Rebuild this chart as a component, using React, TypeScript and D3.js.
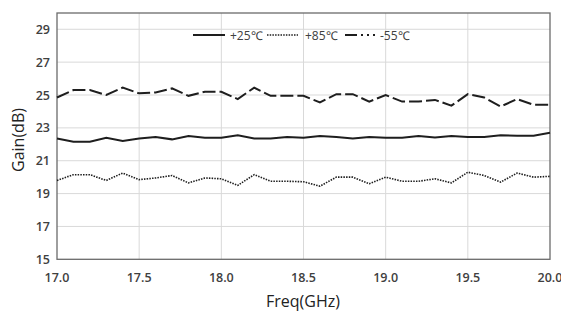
import React, { useEffect, useRef } from 'react';
import * as d3 from 'd3';

// frequency points, 17.0 .. 20.0 GHz step 0.1
const freqs = [
  17.0, 17.1, 17.2, 17.3, 17.4, 17.5, 17.6, 17.7, 17.8, 17.9,
  18.0, 18.1, 18.2, 18.3, 18.4, 18.5, 18.6, 18.7, 18.8, 18.9,
  19.0, 19.1, 19.2, 19.3, 19.4, 19.5, 19.6, 19.7, 19.8, 19.9, 20.0,
];

const gain25 = [
  22.35, 22.15, 22.15, 22.4, 22.2, 22.35, 22.45, 22.3, 22.5, 22.4,
  22.4, 22.55, 22.35, 22.35, 22.45, 22.4, 22.5, 22.45, 22.35, 22.45,
  22.4, 22.4, 22.5, 22.42, 22.5, 22.45, 22.45, 22.55, 22.52, 22.52, 22.7,
];

const gain85 = [
  19.8, 20.15, 20.15, 19.8, 20.25, 19.85, 19.95, 20.1, 19.65, 19.95,
  19.9, 19.5, 20.15, 19.75, 19.75, 19.72, 19.45, 20.0, 20.0, 19.6,
  20.0, 19.75, 19.75, 19.9, 19.65, 20.3, 20.1, 19.7, 20.25, 20.0, 20.05,
];

const gainM55 = [
  24.85, 25.3, 25.3, 25.0, 25.45, 25.1, 25.15, 25.4, 24.95, 25.2,
  25.2, 24.75, 25.45, 24.95, 24.95, 24.95, 24.55, 25.05, 25.05, 24.6,
  25.0, 24.6, 24.6, 24.7, 24.35, 25.05, 24.85, 24.3, 24.75, 24.4, 24.4,
];

const xTicks = [17.0, 17.5, 18.0, 18.5, 19.0, 19.5, 20.0];
const yTicks = [15, 17, 19, 21, 23, 25, 27, 29];
const seriesNames = ['+25\u2103', '+85\u2103', '-55\u2103'];

const W = 561;
const H = 311;

const App: React.FC = () => {
  const svgRef = useRef<SVGSVGElement>(null);

  useEffect(() => {
    if (!svgRef.current) return;
    const svg = d3.select(svgRef.current);
    svg.selectAll('*').remove();

    const left = 57, right = 550, top = 13, bottom = 259.3;
    const x = d3.scaleLinear().domain([17, 20]).range([left, right]);
    const y = d3.scaleLinear().domain([15, 29]).range([bottom, bottom - 14 * 16.43]);
    const font = "'Open Sans', 'Liberation Sans', sans-serif";

    svg.append('rect').attr('width', W).attr('height', H).attr('fill', '#fff');

    // grid
    const g = svg.append('g');
    g.selectAll('.hg')
      .data(yTicks.slice(1))
      .enter()
      .append('line')
      .attr('x1', left).attr('x2', right)
      .attr('y1', d => y(d)).attr('y2', d => y(d))
      .attr('stroke', '#d9d9d9').attr('stroke-width', 1);
    g.selectAll('.vg')
      .data(xTicks.slice(1, -1))
      .enter()
      .append('line')
      .attr('x1', d => x(d)).attr('x2', d => x(d))
      .attr('y1', top).attr('y2', bottom)
      .attr('stroke', '#d9d9d9').attr('stroke-width', 1);

    // frame
    g.append('rect')
      .attr('x', left).attr('y', top)
      .attr('width', right - left).attr('height', bottom - top)
      .attr('fill', 'none').attr('stroke', '#6b6b6b').attr('stroke-width', 1.3);

    // tick labels
    g.selectAll('.yt')
      .data(yTicks)
      .enter()
      .append('text')
      .attr('x', left - 7)
      .attr('y', d => y(d) + 4.5)
      .attr('text-anchor', 'end')
      .attr('font-family', font).attr('font-size', '12.5px').attr('font-weight', 600)
      .attr('fill', '#404040')
      .text(d => d);
    g.selectAll('.xt')
      .data(xTicks)
      .enter()
      .append('text')
      .attr('x', d => x(d))
      .attr('y', 281.5)
      .attr('text-anchor', 'middle')
      .attr('font-family', font).attr('font-size', '12.5px').attr('font-weight', 600)
      .attr('fill', '#404040')
      .text(d => d.toFixed(1));

    // axis titles
    svg.append('text')
      .attr('transform', `translate(24,140) rotate(-90)`)
      .attr('text-anchor', 'middle')
      .attr('font-family', font).attr('font-size', '16px')
      .attr('fill', '#222')
      .text('Gain(dB)');
    svg.append('text')
      .attr('x', 303).attr('y', 307)
      .attr('text-anchor', 'middle')
      .attr('font-family', font).attr('font-size', '16px')
      .attr('fill', '#222')
      .text('Freq(GHz)');

    // lines
    const line = d3.line<number>()
      .x((_, i) => x(freqs[i]))
      .y(d => y(d));
    const styles = [
      { data: gain25, dash: null, w: 2 },
      { data: gain85, dash: '1.5,1.2', w: 1.6 },
      { data: gainM55, dash: '13,4', w: 2 },
    ];
    styles.forEach(s => {
      g.append('path')
        .datum(s.data)
        .attr('fill', 'none')
        .attr('stroke', '#1e1e1e')
        .attr('stroke-width', s.w)
        .attr('stroke-dasharray', s.dash)
        .attr('d', line);
    });

    // legend
    const leg = [
      { x0: 193, x1: 225, tx: 230, dash: null, w: 2 },
      { x0: 267, x1: 298, tx: 305, dash: '1.5,1.2', w: 1.6 },
      { x0: 345, x1: 377, tx: 380, dash: '12,4,2,4,2,4,2', w: 2 },
    ];
    leg.forEach((l, i) => {
      svg.append('line')
        .attr('x1', l.x0).attr('x2', l.x1).attr('y1', 35).attr('y2', 35)
        .attr('stroke', '#1e1e1e').attr('stroke-width', l.w)
        .attr('stroke-dasharray', l.dash);
      svg.append('text')
        .attr('x', l.tx).attr('y', 39.5)
        .attr('font-family', font).attr('font-size', '12px')
        .attr('fill', '#404040')
        .text(seriesNames[i]);
    });
  }, []);

  return (
    <svg ref={svgRef} width={W} height={H}
      style={{ position: 'absolute', left: 0, top: 0, display: 'block' }} />
  );
};

export default App;
